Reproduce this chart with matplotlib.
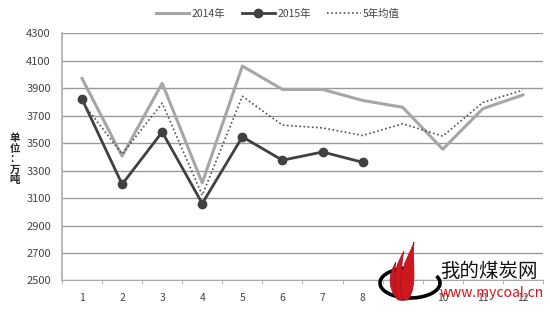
import matplotlib.pyplot as plt
from matplotlib.patches import Arc, PathPatch
from matplotlib.path import Path
import numpy as np

plt.rcParams['font.family'] = ['Noto Sans CJK SC', 'DejaVu Sans']

months = ['1', '2', '3', '4', '5', '6', '7', '8', '9', '10', '11', '12']
y2014 = [3970, 3405, 3935, 3210, 4060, 3890, 3890, 3810, 3760, 3455, 3750, 3850]
y2015 = [3820, 3200, 3580, 3060, 3545, 3375, 3435, 3360]
avg5 = [3800, 3420, 3790, 3120, 3840, 3630, 3610, 3555, 3640, 3550, 3795, 3885]

W, H = 550, 312
fig = plt.figure(figsize=(W / 100, H / 100), dpi=100)
ax = fig.add_axes([0.1127, 0.101, 0.8745, 0.793])

x = np.arange(1, 13)
l1, = ax.plot(x, y2014, color='#a6a6a6', lw=2.2, label='2014年')
l2, = ax.plot(x[:len(y2015)], y2015, color='#404040', lw=2, marker='o',
              ms=6, label='2015年')
l3, = ax.plot(x, avg5, color='#505050', lw=1.2, ls=(0, (1, 1.5)), label='5年均值')

ax.set_xlim(0.5, 12.5)
ax.set_ylim(2500, 4300)
ax.set_yticks(np.arange(2500, 4301, 200))
ax.set_xticks(x)
ax.set_xticklabels(months)
ax.set_xticks(np.arange(0.5, 12.6, 1), minor=True)
ax.grid(axis='y', color='#9a9a9a', lw=1)
ax.set_axisbelow(True)
for s in ['top', 'right']:
    ax.spines[s].set_visible(False)
ax.spines['left'].set_color('#bbbbbb')
ax.spines['left'].set_linewidth(1.5)
ax.spines['bottom'].set_color('#aaaaaa')
ax.tick_params(axis='y', length=0, labelsize=8, labelcolor='#444444', pad=8)
ax.tick_params(axis='x', which='major', length=0, labelsize=7.5,
               labelcolor='#444444', pad=9)
ax.tick_params(axis='x', which='minor', length=3, color='#aaaaaa')

fig.text(0.027, 0.49, '单\n位\n：\n万\n吨', fontsize=7.5, fontweight='bold',
         ha='center', va='center', linespacing=1.05, color='#222222')

fig.legend(handles=[l1, l2, l3], loc='center', bbox_to_anchor=(0.505, 0.955),
           ncol=3, frameon=False, fontsize=7.5, handlelength=3.2,
           columnspacing=1.6, handletextpad=0.2, labelcolor='#444444')


# watermark logo (drawn in pixel units, converted to figure fraction)
def px(a, b):
    return (a / W, 1 - b / H)


fig.add_artist(Arc(px(410, 283), 60 / W, 30 / H, theta1=100, theta2=385,
                   transform=fig.transFigure, color='black', lw=2.6))
tongues = [
    [(398, 300), (384, 285), (392, 268), (396, 262), (393, 275), (396, 288), (402, 300)],
    [(400, 300), (388, 280), (398, 262), (404, 251), (400, 268), (402, 285), (406, 300)],
    [(403, 300), (394, 275), (410, 255), (414, 242), (412, 265), (418, 285), (408, 300)],
]
codes = [Path.MOVETO, Path.CURVE4, Path.CURVE4, Path.CURVE4,
         Path.CURVE4, Path.CURVE4, Path.CURVE4]
for pts in tongues:
    path = Path([px(*p) for p in pts] + [px(*pts[0])], codes + [Path.CLOSEPOLY])
    fig.add_artist(PathPatch(path, transform=fig.transFigure,
                             facecolor='#cf1720', edgecolor='#a01018', lw=0.5))
fig.text(px(440, 0)[0], 1 - 271 / H, '我的煤炭网', fontsize=14, color='#111111',
         ha='left', va='center')
fig.text(px(440, 0)[0], 1 - 293 / H, 'www.mycoal.cn', fontsize=10, color='#d0141c',
         ha='left', va='center')

fig.savefig('out.png', dpi=100)
